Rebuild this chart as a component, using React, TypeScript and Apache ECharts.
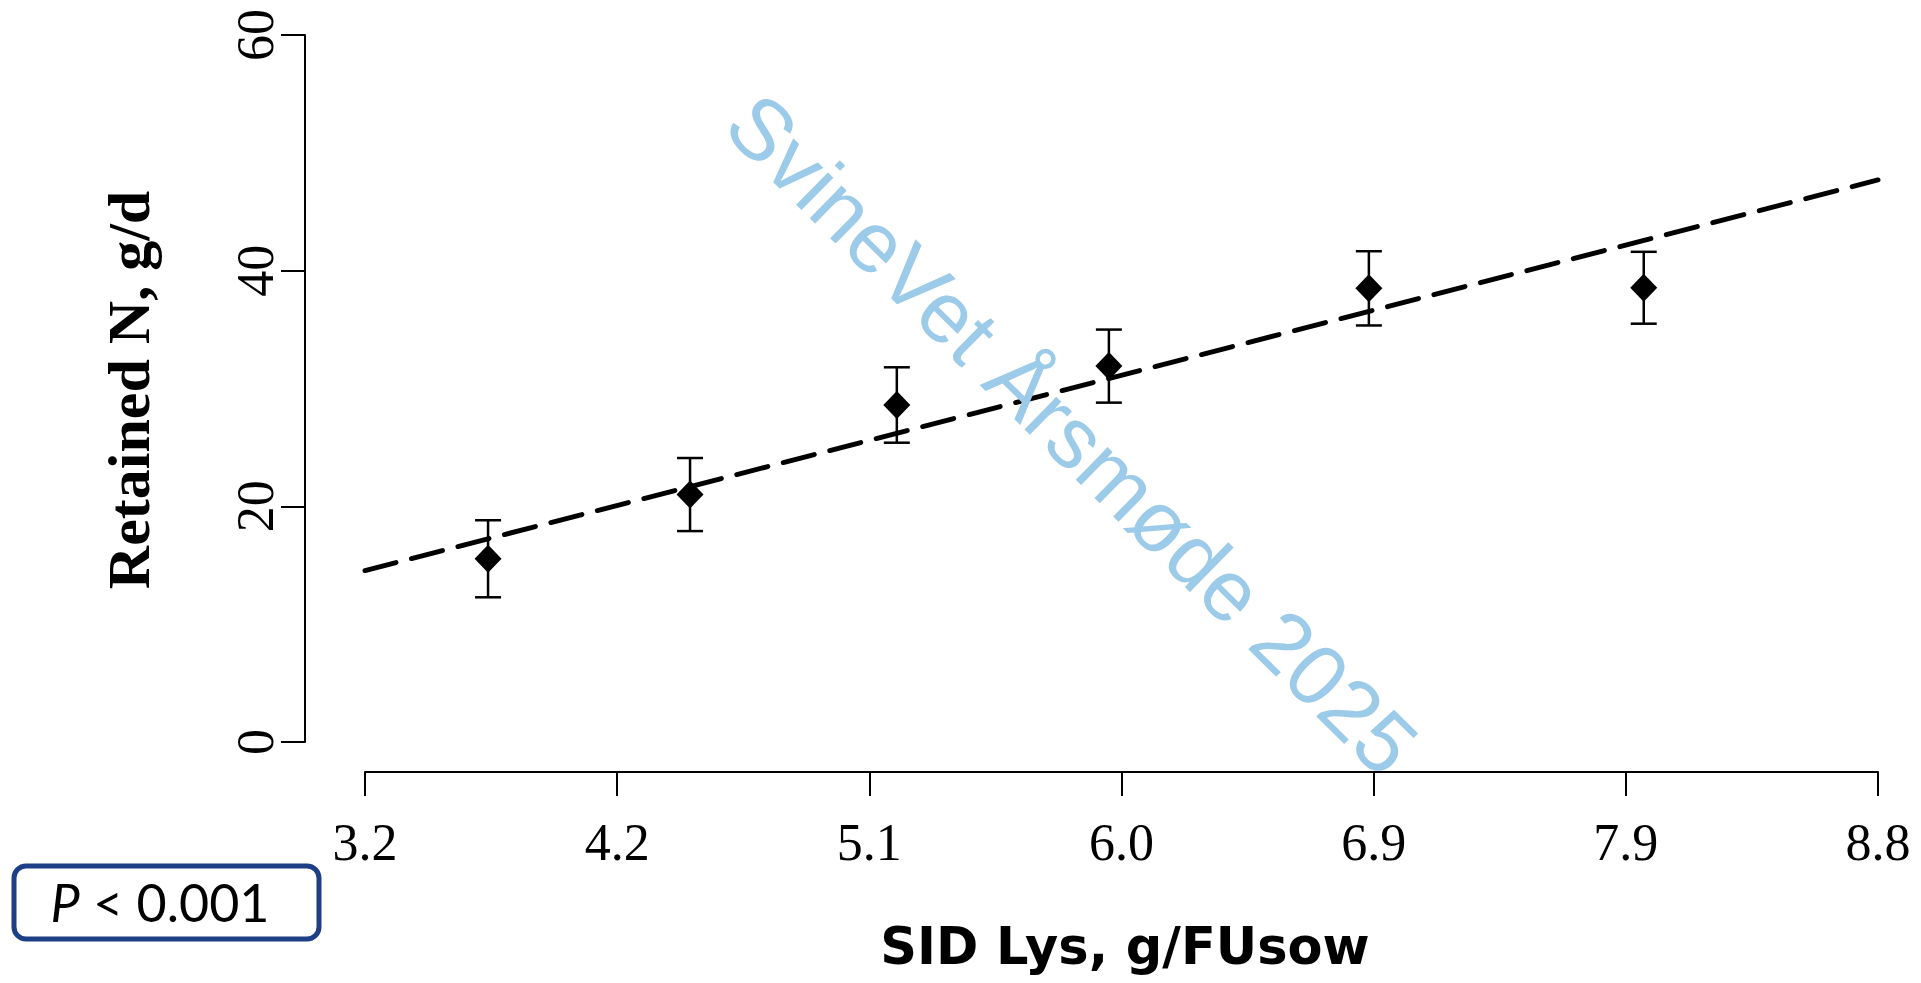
import React, { useEffect, useRef } from "react";
import * as echarts from "echarts";

// X axis tick labels (SID Lys, g/FUsow), equally spaced
const xTickLabels = ["3.2", "4.2", "5.1", "6.0", "6.9", "7.9", "8.8"];
// Treatment positions on the tick scale (0 = 3.2, 6 = 8.8)
const xPositions = [0.488, 1.289, 2.109, 2.95, 3.981, 5.071];
// Retained N, g/d (means) and error (±)
const retainedN = [15.55, 21.0, 28.6, 31.9, 38.5, 38.55];
const errorN = [3.27, 3.1, 3.2, 3.1, 3.15, 3.05];
// Fitted regression line (ends at the axis extremes)
const fitX = [0, 6];
const fitY = [14.55, 47.7];
// Y ticks
const yMin = 0;
const yMax = 60;
const yStep = 20;

const SERIF = "'Liberation Serif', 'Times New Roman', serif";

export default function App() {
  const ref = useRef<HTMLDivElement>(null);

  useEffect(() => {
    document.body.style.margin = "0";
    const chart = echarts.init(ref.current!, null, { renderer: "svg" });

    const points = xPositions.map((x, i) => [x, retainedN[i]]);
    const bars = xPositions.map((x, i) => [x, retainedN[i] - errorN[i], retainedN[i] + errorN[i]]);
    const fit = fitX.map((x, i) => [x, fitY[i]]);

    chart.setOption({
      animation: false,
      backgroundColor: "#ffffff",
      grid: { left: 365, right: 43, top: 35, bottom: 241 },
      xAxis: {
        type: "value",
        min: 0,
        max: 6,
        interval: 1,
        offset: 30,
        axisLine: { show: true, onZero: false, lineStyle: { color: "#000", width: 2 } },
        axisTick: { show: true, length: 24, lineStyle: { color: "#000", width: 2 } },
        splitLine: { show: false },
        axisLabel: {
          margin: 44,
          color: "#000",
          fontFamily: SERIF,
          fontSize: 52,
          formatter: (v: number) => xTickLabels[Math.round(v)] ?? "",
        },
      },
      yAxis: {
        type: "value",
        min: yMin,
        max: yMax,
        interval: yStep,
        offset: 60,
        axisLine: { show: true, onZero: false, lineStyle: { color: "#000", width: 2 } },
        axisTick: { show: true, length: 24, lineStyle: { color: "#000", width: 2 } },
        splitLine: { show: false },
        axisLabel: {
          rotate: 90,
          margin: 24,
          color: "#000",
          fontFamily: SERIF,
          fontSize: 52,
        },
      },
      series: [
        {
          type: "line",
          data: fit,
          symbol: "none",
          z: 2,
          lineStyle: { color: "#000", width: 5, type: [32, 16], cap: "round" },
        },
        {
          type: "custom",
          data: bars,
          z: 3,
          encode: { x: 0, y: [1, 2] },
          renderItem: (params: any, api: any) => {
            const x = api.value(0);
            const lo = api.coord([x, api.value(1)]);
            const hi = api.coord([x, api.value(2)]);
            const w = 13;
            const style = { stroke: "#000", lineWidth: 2.5 };
            return {
              type: "group",
              children: [
                { type: "line", shape: { x1: hi[0], y1: hi[1], x2: lo[0], y2: lo[1] }, style },
                { type: "line", shape: { x1: hi[0] - w, y1: hi[1], x2: hi[0] + w, y2: hi[1] }, style },
                { type: "line", shape: { x1: lo[0] - w, y1: lo[1], x2: lo[0] + w, y2: lo[1] }, style },
              ],
            };
          },
        },
        {
          type: "scatter",
          data: points,
          symbol: "diamond",
          symbolSize: [27, 28],
          z: 4,
          itemStyle: { color: "#000", opacity: 1 },
        },
      ],
      graphic: [
        {
          type: "text",
          x: 129,
          y: 390,
          rotation: Math.PI / 2,
          style: {
            text: "Retained N, g/d",
            fontFamily: SERIF,
            fontWeight: "bold",
            fontSize: 60,
            fill: "#000",
            align: "center",
            verticalAlign: "middle",
          },
        },
        {
          type: "text",
          x: 1125,
          y: 946,
          style: {
            text: "SID Lys, g/FUsow",
            fontFamily: "'DejaVu Sans', sans-serif",
            fontWeight: "bold",
            fontSize: 51,
            fill: "#000",
            align: "center",
            verticalAlign: "middle",
          },
        },
        {
          type: "rect",
          shape: { x: 14, y: 866, width: 305, height: 73, r: 12 },
          style: { fill: "#fff", stroke: "#1d3f85", lineWidth: 5 },
        },
        {
          type: "text",
          x: 160,
          y: 902,
          style: {
            text: "{i|P}{n| < 0.001}",
            align: "center",
            verticalAlign: "middle",
            rich: {
              i: { fontFamily: "Lato", fontStyle: "italic", fontSize: 52, fill: "#000" },
              n: { fontFamily: "Lato", fontSize: 52, fill: "#000" },
            },
          },
        },
        {
          type: "text",
          x: 1072,
          y: 434,
          rotation: -0.777,
          z: 100,
          style: {
            text: "SvineVet Årsmøde 2025",
            fontFamily: "'Liberation Sans', Arial, sans-serif",
            fontSize: 86,
            fill: "#9ccbe9",
            align: "center",
            verticalAlign: "middle",
          },
        },
      ],
    });

    return () => chart.dispose();
  }, []);

  return (
    <div
      ref={ref}
      style={{ position: "fixed", left: 0, top: 0, width: 1921, height: 983 }}
    />
  );
}
